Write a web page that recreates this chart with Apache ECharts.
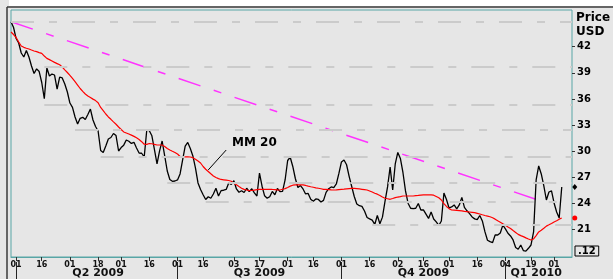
<!DOCTYPE html>
<html><head><meta charset="utf-8">
<script src="https://cdn.jsdelivr.net/npm/echarts@6/dist/echarts.min.js"></script>
<style>html,body{margin:0;padding:0;background:#e6e6e6}#c{width:613px;height:279px}</style>
</head><body><div id="c"></div>
<script>
// trading-day calendar (weekdays minus exchange holidays)
const holidays = ['2009-04-10','2009-05-25','2009-07-03','2009-09-07','2009-11-26','2009-12-25','2010-01-01','2010-01-18'];
function buildDays(){
  const out=[]; let t=Date.UTC(2009,2,30); const end=Date.UTC(2010,1,10);
  while(t<=end){const d=new Date(t);const wd=d.getUTCDay();const s=d.toISOString().slice(0,10);
    if(wd!==0&&wd!==6&&holidays.indexOf(s)<0) out.push(s); t+=86400000;}
  return out;
}
const categories = buildDays();

const labelDates = ['2009-04-01','2009-04-16','2009-05-01','2009-05-18','2009-06-01','2009-06-16','2009-07-01','2009-07-16','2009-08-03','2009-08-17','2009-09-01','2009-09-16','2009-10-01','2009-10-16','2009-11-02','2009-11-16','2009-12-01','2009-12-16','2010-01-04','2010-01-19','2010-02-01'];
const quarterStarts = ['2009-04-01','2009-07-01','2009-10-01','2010-01-04'];
const quarterLabelDates = ['2009-05-18','2009-08-17','2009-11-16','2010-01-21'];
const quarterNames = ['Q2 2009','Q3 2009','Q4 2009','Q1 2010'];
const yTicks = [21,24,27,30,33,36,39,42];

const price = [44.87,44.21,42.94,42.43,41.28,40.82,41.56,40.82,39.78,38.92,
39.46,39.15,37.89,36.02,39.55,38.64,38.86,38.75,37.14,38.52,
38.41,37.72,36.80,35.53,35.04,33.93,33.12,33.78,33.89,33.64,
34.21,34.84,33.58,32.83,32.32,30.08,29.85,30.59,31.40,31.57,
32.03,31.79,30.02,30.42,30.69,31.28,31.14,30.89,31.02,30.37,
29.78,29.76,29.33,32.43,32.35,31.77,30.19,28.53,30.03,31.17,
29.45,27.72,26.75,26.54,26.57,26.69,27.38,28.99,30.59,31.00,
30.31,29.45,28.07,26.35,25.60,24.99,24.45,24.77,24.59,25.08,
25.74,24.85,25.46,25.51,25.60,26.35,26.17,26.62,25.66,25.28,
25.46,25.25,25.74,25.35,25.68,25.20,24.85,27.49,25.97,24.87,
24.60,24.76,25.37,24.99,25.71,25.35,25.37,26.69,28.93,29.30,
28.24,26.86,25.83,26.05,25.66,25.08,25.14,24.47,24.24,24.51,
24.45,24.16,24.34,25.27,25.69,25.89,25.82,26.23,27.44,28.76,
28.99,28.44,27.11,25.94,24.79,23.93,23.73,23.65,23.13,22.38,
22.22,22.07,21.58,22.61,21.66,22.42,24.24,25.89,28.18,25.54,
28.53,29.86,29.16,27.55,25.43,24.02,23.44,23.40,23.44,23.99,
23.24,23.26,22.76,22.27,23.01,22.21,21.87,21.46,21.98,25.20,
24.45,23.47,23.59,23.82,23.36,23.82,24.69,23.54,23.15,22.82,
22.44,22.22,22.14,22.61,21.98,20.75,19.76,19.60,19.49,20.37,
20.37,20.60,21.50,21.08,20.57,20.26,19.80,18.94,18.73,19.22,
18.58,18.51,18.84,19.22,20.72,26.69,28.30,27.38,26.00,24.39,
25.31,25.43,24.05,23.01,22.32,25.89];

const mm20 = [43.69,43.40,43.06,42.54,42.08,41.93,41.83,41.74,41.62,41.51,
41.43,41.33,41.24,40.93,40.66,40.52,40.36,40.20,40.06,39.92,
39.67,39.35,39.04,38.70,38.36,37.99,37.60,37.20,36.87,36.57,
36.34,36.17,35.98,35.81,35.56,35.02,34.67,34.27,33.93,33.66,
33.36,33.09,32.78,32.49,32.21,32.09,31.97,31.84,31.70,31.53,
31.34,31.09,30.80,30.78,30.88,30.85,30.78,30.71,30.71,30.71,
30.54,30.31,30.14,29.99,29.85,29.68,29.39,29.31,29.34,29.35,
29.33,29.25,29.07,28.87,28.64,28.24,27.92,27.67,27.40,27.15,
26.98,26.85,26.75,26.71,26.67,26.63,26.54,26.32,26.13,25.93,
25.74,25.61,25.54,25.47,25.48,25.53,25.58,25.62,25.62,25.62,
25.62,25.62,25.60,25.59,25.56,25.54,25.62,25.70,25.83,25.98,
26.09,26.12,26.12,26.12,26.12,26.06,25.98,25.91,25.85,25.79,
25.74,25.68,25.62,25.60,25.58,25.55,25.54,25.56,25.59,25.61,
25.63,25.66,25.69,25.72,25.72,25.69,25.66,25.62,25.58,25.54,
25.43,25.31,25.17,25.06,24.91,24.74,24.59,24.53,24.47,24.56,
24.66,24.73,24.78,24.85,24.85,24.85,24.85,24.85,24.89,24.92,
24.96,24.97,24.97,24.97,24.97,24.94,24.79,24.64,24.39,23.97,
23.65,23.40,23.24,23.22,23.20,23.17,23.14,23.08,23.05,23.01,
22.97,22.93,22.86,22.78,22.69,22.61,22.54,22.46,22.35,22.19,
22.01,21.84,21.66,21.50,21.29,21.11,20.88,20.66,20.44,20.30,
20.18,20.04,19.91,19.80,19.91,20.30,20.72,20.91,21.14,21.39,
21.54,21.70,21.87,22.01,22.19,22.32];

// horizontal dashed reference levels and the day each one starts
const gridLevels = [44.87,39.70,35.30,32.48,29.33,26.38,24.20,21.52];
const gridStartIdx = [0,13,13,25,35,61,76,141];
// dashed trend line end points
const trendIdx = [0,206];
const trendVal = [44.87,24.36];
// MM 20 annotation
const annotText = 'MM 20';
const annotAt = [95, 31.0];
const leaderFrom = [84, 30.13];
const leaderTo = [77, 27.84];

const labelSet = new Set(labelDates);
const qStartSet = new Set(quarterStarts);
const qMap = {}; quarterLabelDates.forEach((d,i)=>qMap[d]=quarterNames[i]);
const FONT = 'DejaVu Sans';
const TEAL = '#58a6a6';
const lastIdx = price.length-1;

const chart = echarts.init(document.getElementById('c'), null, {renderer:'canvas'});
chart.setOption({
  backgroundColor:'#e6e6e6',
  animation:false,
  grid:{left:11, top:10, right:41, bottom:22, show:true, borderColor:TEAL, borderWidth:1},
  xAxis:[{
    type:'category', data:categories, boundaryGap:false, position:'bottom',
    axisLine:{show:true, onZero:false, lineStyle:{color:TEAL}},
    axisTick:{show:true, interval:(i,v)=>labelSet.has(v), length:4, lineStyle:{color:'#333'}},
    axisLabel:{interval:(i,v)=>labelSet.has(v), formatter:v=>v.slice(8), fontFamily:FONT, fontWeight:'bold', fontSize:8, color:'#111', margin:4},
    splitLine:{show:false}
  },{
    type:'category', data:categories, boundaryGap:false, position:'bottom', offset:5,
    axisLine:{show:false, onZero:false},
    axisTick:{show:true, interval:(i,v)=>qStartSet.has(v), length:17, lineStyle:{color:'#222'}},
    axisLabel:{interval:(i,v)=>qMap[v]!==undefined, formatter:v=>qMap[v]||'', fontFamily:FONT, fontWeight:'bold', fontSize:11, color:'#111', margin:6},
    splitLine:{show:false}
  }],
  yAxis:{
    type:'value', position:'right', min:17.84, max:46.22,
    axisLine:{show:false},
    axisTick:{show:true, customValues:yTicks, length:3, lineStyle:{color:'#333'}},
    axisLabel:{customValues:yTicks, fontFamily:FONT, fontWeight:'bold', fontSize:10, color:'#000', margin:5},
    splitLine:{show:false}
  },
  graphic:[
    {type:'rect', shape:{x:9,y:0,width:604,height:6}, style:{fill:'#ffffff'}, silent:true},
    {type:'line', shape:{x1:7,y1:7,x2:613,y2:7}, style:{stroke:'#3a3a3a', lineWidth:1.5}, silent:true},
    {type:'line', shape:{x1:7,y1:7,x2:7,y2:279}, style:{stroke:'#3a3a3a', lineWidth:1.5}, silent:true},
    {type:'text', x:576, y:11, style:{text:'Price\nUSD', font:'bold 12px "DejaVu Sans"', fill:'#000', lineHeight:14}, silent:true},
    {type:'text', x:575, y:246, style:{text:'.12', font:'bold 10px "DejaVu Sans"', fill:'#000', lineHeight:10, borderColor:'#000', borderWidth:1, padding:[0,3,0,3]}, silent:true}
  ],
  series:[
    {type:'line', data:[], silent:true, z:1, xAxisIndex:0,
      markLine:{silent:true, symbol:['none','none'], label:{show:false}, animation:false,
        lineStyle:{color:'#cbcbcb', width:2, type:[23,15,8,15]},
        data: gridLevels.map((lv,i)=>[{coord:[categories[gridStartIdx[i]], lv]},{coord:[categories[categories.length-1], lv]}])}
    },
    {type:'line', z:2, silent:true, symbol:'none',
      data: trendIdx.map((ix,k)=>[categories[ix], trendVal[k]]),
      lineStyle:{color:'#ff33ff', width:1.5, type:[23,14,8,14]}},
    {type:'line', z:3, silent:true, symbol:'none', clip:false, data:price,
      lineStyle:{color:'#000', width:1.3},
      markPoint:{silent:true, animation:false, data:[{coord:[categories[lastIdx], price[lastIdx]], symbol:'diamond', symbolSize:[5,6], symbolOffset:[13,0], itemStyle:{color:'#000'}, label:{show:false}}]}},
    {type:'line', z:4, silent:true, symbol:'none', clip:false, data:mm20,
      lineStyle:{color:'#ff0000', width:1.2},
      markLine:{silent:true, symbol:['none','none'], animation:false, label:{show:false},
        lineStyle:{color:'#000', width:1, type:'solid'},
        data:[[{coord:[categories[leaderFrom[0]], leaderFrom[1]]},{coord:[categories[leaderTo[0]], leaderTo[1]]}]]},
      markPoint:{silent:true, animation:false, data:[
        {coord:[categories[annotAt[0]], annotAt[1]], symbol:'circle', symbolSize:1, itemStyle:{color:'transparent'},
          label:{show:true, position:'inside', formatter:annotText, fontFamily:FONT, fontWeight:'bold', fontSize:12, color:'#000'}},
        {coord:[categories[lastIdx], mm20[lastIdx]], symbol:'circle', symbolSize:5, symbolOffset:[13,0], itemStyle:{color:'#ff0000'}, label:{show:false}}
      ]}}
  ]
});
</script></body></html>
